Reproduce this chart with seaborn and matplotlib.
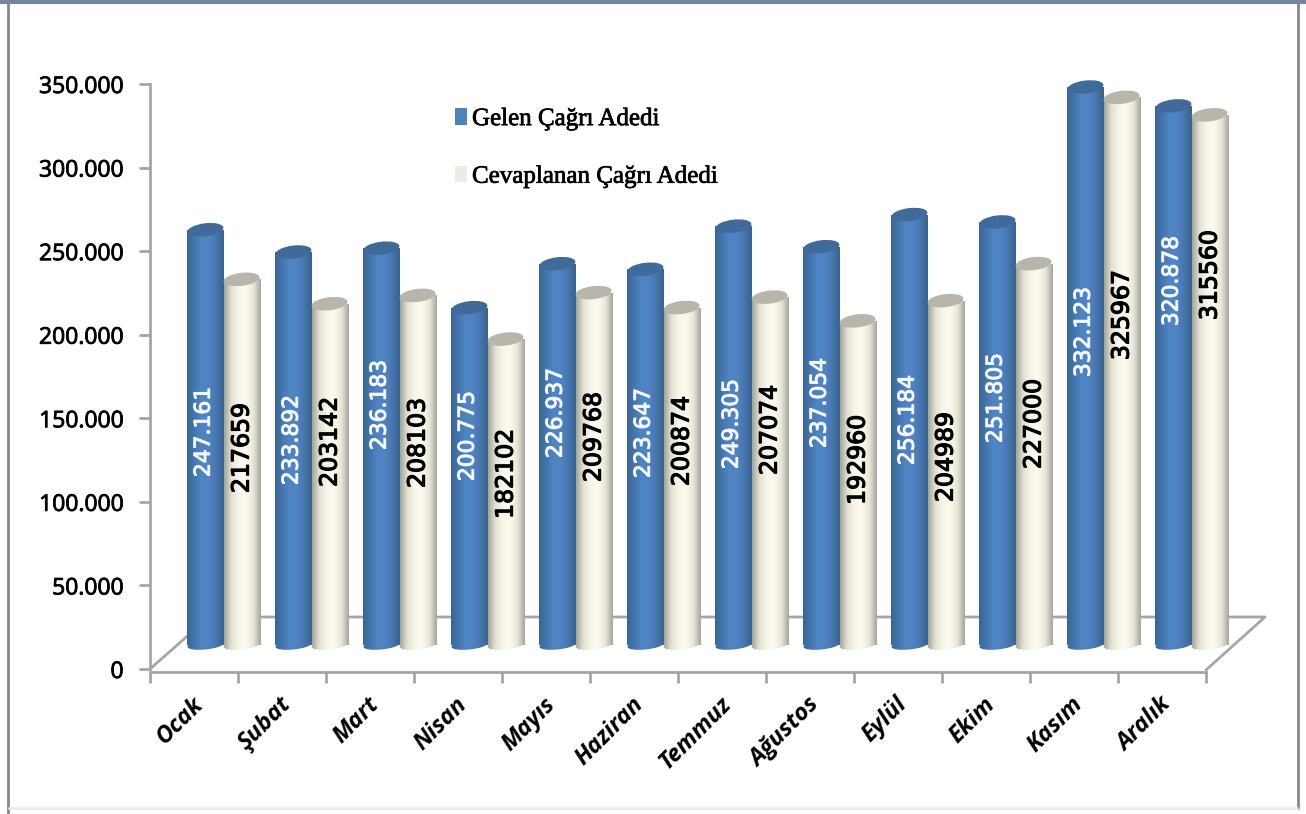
import numpy as np
import pandas as pd
import matplotlib
matplotlib.use("Agg")
import matplotlib.pyplot as plt
import matplotlib.patheffects as pe
import seaborn as sns
from matplotlib.lines import Line2D
from matplotlib.patches import Ellipse, Rectangle
from matplotlib.colors import LinearSegmentedColormap
from matplotlib.transforms import Affine2D, IdentityTransform, blended_transform_factory
from matplotlib.ticker import FuncFormatter

months = ["Ocak", "Şubat", "Mart", "Nisan", "Mayıs", "Haziran", "Temmuz",
          "Ağustos", "Eylül", "Ekim", "Kasım", "Aralık"]
gelen = [247161, 233892, 236183, 200775, 226937, 223647, 249305, 237054, 256184, 251805, 332123, 320878]
cevap = [217659, 203142, 208103, 182102, 209768, 200874, 207074, 192960, 204989, 227000, 325967, 315560]
SER_A = "Gelen Çağrı Adedi"
SER_B = "Cevaplanan Çağrı Adedi"

# vertical centre (px from top) of each rotated value label
label_y_a = [432, 440, 405, 436, 413, 433, 424, 403, 420, 398, 332, 281]
label_y_b = [448, 442, 443, 474, 437, 441, 430, 460, 457, 424, 315, 275]

W, H = 1306, 814
sns.set_theme(style="white")
fig = plt.figure(figsize=(W / 100, H / 100), dpi=100, facecolor="white")

GREY = "#a6a6a6"
def axrect(l, t, r, b):
    return [l / W, (H - b) / H, (r - l) / W, (b - t) / H]

# main axes: scale, ticks
L, R, T, B = 150, 1206, 84, 669
ax = fig.add_axes(axrect(L, T, R, B))
ax.set_xlim(-0.5, 11.5)
ax.set_ylim(0, 350000)
for s in ("top", "right"):
    ax.spines[s].set_visible(False)
for s in ("left", "bottom"):
    ax.spines[s].set_color(GREY)
    ax.spines[s].set_linewidth(2)
ax.spines["bottom"].set_position(("outward", 2))
ax.set_yticks(np.arange(0, 350001, 50000))
ax.yaxis.set_major_formatter(FuncFormatter(lambda v, _: f"{int(v):,}".replace(",", ".")))
ax.tick_params(axis="y", length=8, width=2, color=GREY, pad=11, left=True, labelsize=16.5, labelcolor="black")
for t in ax.get_yticklabels():
    t.set_fontfamily("Open Sans")
    t.set_path_effects([pe.withStroke(linewidth=0.6, foreground="black")])
ax.set_xticks(np.arange(-0.5, 12, 1))
ax.set_xticklabels([])
ax.tick_params(axis="x", which="major", length=8, width=2, color=GREY, bottom=True)
ax.set_xticks(np.arange(12), minor=True)
ax.set_xticklabels(months, minor=True, rotation=45, ha="right", va="top", rotation_mode="anchor",
                   fontsize=17, fontweight="bold", fontstyle="italic", fontfamily="Open Sans", color="black")
ax.tick_params(axis="x", which="minor", length=0, pad=15)
for t in ax.get_xticklabels(minor=True):
    t.set_transform(t.get_transform() + Affine2D().translate(-3, 0))

# floor parallelogram
fl = dict(color=GREY, lw=2, solid_capstyle="round", clip_on=False)
ax_tr = Affine2D().scale(1, -1).translate(0, H)
ax.plot([150, 209, 1265, 1206], [669, 617, 617, 670], transform=ax_tr, **fl)

# bar axes: same horizontal scale, shifted to sit on the floor
DX = 29.5
BASE_PX = 645       # pixel row of value 0 for the bars
PX_PER_K = 1.68     # pixels per 1000 calls on the bars' front plane
LOW = -15000
ax2 = fig.add_axes(axrect(L + DX, BASE_PX - 350 * PX_PER_K, R + DX, BASE_PX - LOW / 1000 * PX_PER_K),
                   facecolor="none")
df = pd.DataFrame({"Ay": months * 2,
                   "Adet": gelen + cevap,
                   "Seri": [SER_A] * 12 + [SER_B] * 12})
COL_A, COL_B = "#4f81bd", "#eeece1"
sns.barplot(data=df, x="Ay", y="Adet", hue="Seri", palette=[COL_A, COL_B], width=0.82, gap=0,
            order=months, hue_order=[SER_A, SER_B], ax=ax2, linewidth=0, saturation=1)
ax2.set_xlim(-0.5, 11.5)
ax2.set_ylim(LOW, 350000)
ax2.axis("off")

cm_a = LinearSegmentedColormap.from_list("a", ["#3a6595", "#4676ae", "#5085c5", "#4f83c2", "#4676ad", "#3b628e"])
cm_b = LinearSegmentedColormap.from_list("b", ["#a5a397", "#e3e1d3", "#f8f6ea", "#fdfbf0", "#e8e6d9", "#a8a69a"])
grad = np.linspace(0, 1, 128).reshape(1, -1)

def cylinder(ax2, patch, cmap, capcol, z):
    x0, x1 = patch.get_x(), patch.get_x() + patch.get_width()
    v = patch.get_height()
    (px0, py0), (px1, py1) = ax2.transData.transform([(x0, 0), (x1, v)])
    w = px1 - px0
    cx = (px0 + px1) / 2
    # bottom curve + body with cylinder shading
    bottom = Ellipse((cx, py0), w, 9, angle=6, transform=IdentityTransform())
    body = Rectangle((px0, py0), w, py1 - py0, transform=IdentityTransform())
    for shape in (bottom, body):
        ax2.add_patch(shape)
        shape.set_alpha(0)
        im = ax2.imshow(grad, cmap=cmap, aspect="auto", zorder=z,
                        extent=(x0, x1, LOW, v), interpolation="bilinear")
        im.set_clip_path(shape)
    ax2.add_patch(Ellipse((cx, py1), w, 13, angle=7, facecolor=capcol, edgecolor="none",
                          transform=IdentityTransform(), zorder=z + 0.5, clip_on=False))

containers = ax2.containers
for i, p in enumerate(containers[0]):
    cylinder(ax2, p, cm_a, "#3f6a9a", 3 + i * 2)
for i, p in enumerate(containers[1]):
    cylinder(ax2, p, cm_b, "#b7b5ac", 4 + i * 2)
ax2.set_xlim(-0.5, 11.5)
ax2.set_ylim(LOW, 350000)

# value labels
ltr = blended_transform_factory(ax2.transData, ax_tr)
for p, v, y in zip(containers[0], gelen, label_y_a):
    ax2.text(p.get_x() + p.get_width() / 2 - 0.02, y, f"{v:,}".replace(",", "."), transform=ltr, rotation=90,
             ha="center", va="center", color="#f4f8fd", fontsize=15.7, zorder=50,
             path_effects=[pe.withStroke(linewidth=0.7, foreground="#f4f8fd")])
for p, v, y in zip(containers[1], cevap, label_y_b):
    ax2.text(p.get_x() + p.get_width() / 2, y, str(v), transform=ltr, rotation=90,
             ha="center", va="center", color="black", fontsize=17, zorder=50,
             path_effects=[pe.withStroke(linewidth=0.9, foreground="black")])

# legend
h = [Rectangle((0, 0), 1, 1, facecolor=COL_A, edgecolor="none"),
     Rectangle((0, 0), 1, 1, facecolor=COL_B, edgecolor="none")]
leg = ax2.legend(h, [SER_A, SER_B], loc="upper left", frameon=False,
                 bbox_to_anchor=(455, H - 108), bbox_transform=IdentityTransform(),
                 prop={"family": "Liberation Serif", "size": 18},
                 labelcolor="black",
                 labelspacing=1.42, handlelength=0.48, handleheight=0.65, handletextpad=0.2,
                 borderpad=0, borderaxespad=0)
for t in leg.get_texts():
    t.set_path_effects([pe.withStroke(linewidth=0.5, foreground="black")])

# outer frame
def frame(xs, ys, c, lw):
    fig.add_artist(Line2D([x / W for x in xs], [1 - y / H for y in ys], color=c, lw=lw))
frame([0, W], [1.5, 1.5], "#76869f", 3)
frame([7.5, 7.5], [2, H], "#888888", 2)
frame([1297.5, 1297.5], [2, 808], "#888888", 2)
frame([9, 1297], [808, 808], "#e4ebf5", 2)

fig.savefig("out.png", dpi=100)
